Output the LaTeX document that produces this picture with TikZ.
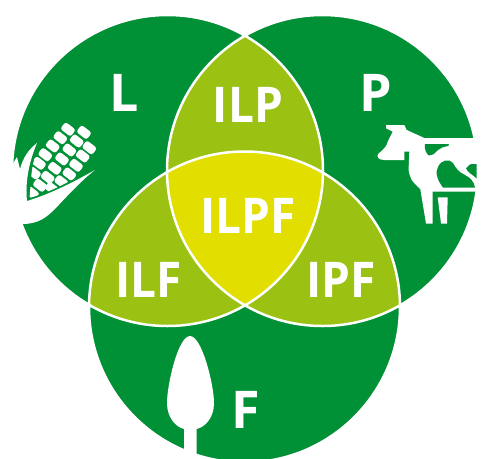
\documentclass[tikz,border=0pt]{standalone}
\usepackage{fontspec}
\setmainfont{Open Sans}
\definecolor{vgreen}{HTML}{009036}
\definecolor{vlime}{HTML}{9BC113}
\definecolor{vyellow}{HTML}{E1DE00}
\newcommand{\tallbold}[2]{\scalebox{1}[#1]{#2}}
\tikzset{
  setlabel/.style={text=white,inner sep=0pt,font=\fontsize{46}{46}\selectfont\bfseries},
  biglabel/.style={text=white,inner sep=0pt,font=\fontsize{52}{52}\selectfont\bfseries},
  kernel/.style={fill=white,rounded corners=2.6pt,minimum width=13pt,minimum height=8.8pt,inner sep=0pt,rotate=-38},
  icon/.style={fill=white,draw=none}
}
\def\cL{(167.5,170.5) circle (155.5)}
\def\cP{(322.5,170.5) circle (155.5)}
\def\cF{(244.5,307) circle (155.5)}
\begin{document}
\begin{tikzpicture}[x=1pt,y=-1pt]
\useasboundingbox (0,0) rectangle (481,458);
\clip (0,0) rectangle (481,458);
% circles
\fill[vgreen] \cL;
\fill[vgreen] \cP;
\fill[vgreen] \cF;
\begin{scope}\clip \cL; \fill[vlime] \cP; \end{scope}
\begin{scope}\clip \cL; \fill[vlime] \cF; \end{scope}
\begin{scope}\clip \cP; \fill[vlime] \cF; \end{scope}
\begin{scope}\clip \cL; \clip \cP; \fill[vyellow] \cF; \end{scope}
\draw[white,line width=2.5pt] \cL \cP \cF;
% corn husk
\fill[icon] (37,143) .. controls (28,150) and (23,158) .. (20,169) -- (17,157) -- (12,165) -- (5,165) -- (5,225) -- (22,224)
  .. controls (38,224) and (46,218) .. (56,208) .. controls (68,195) and (82,180) .. (95,170)
  .. controls (72,183) and (50,194) .. (27,201) .. controls (25,182) and (29,162) .. (37,143) -- cycle;
% corn kernels
\begin{scope}
\clip (38,146) .. controls (34,160) and (32,165) .. (31,180) -- (29.5,198) .. controls (50,192) and (75,180) .. (95,165) -- (100,120) -- (60,115) -- cycle;
\foreach \kx/\ky [count=\ki] in {68/129.3,84/132.3,60.3/137.7,76.7/141,89.3/147.7,52.7/146,69.3/150,82.7/156,45.3/154.7,62/159,76/165.3,39/163.3,54.7/168.3,69.3/174,34/173,47.7/177.3,61.3/181.7,40/185.3,52/188.5,32/193}
  \node[kernel] (k\ki) at (\kx,\ky) {};
\end{scope}
% cow
\fill[icon] (386,125) -- (404.3,125) -- (406.7,130) -- (424.3,138) -- (480,138) -- (480,191.5) -- (432.7,191.5) -- (432.7,223.5) -- (426,223.5) -- (420.3,189.3)
  .. controls (415,184) and (411,180) .. (411,178.3) .. controls (408,172) and (408.7,168) .. (408.7,166.7) -- (409.3,151.7) -- (404.3,151.7) -- (404.3,160) -- (384,160)
  .. controls (378,160) and (376,156) .. (378.5,153.5) .. controls (384,149) and (387,146) .. (387.7,141.7) -- (392.7,131.7) -- (386,128.3) -- cycle;
\fill[icon] (437.7,197.3) -- (447.7,197.3) -- (447,223.5) -- (441,223.5) -- cycle;
\fill[vgreen] (425,144) -- (449,144) -- (448.3,146) .. controls (443,147) and (441,147.5) .. (438,150) .. controls (434,154) and (432,156) .. (429,155.5) .. controls (426,154) and (424,148) .. (425,144) -- cycle;
\fill[vgreen] (443,187.5) .. controls (437,180) and (435,172) .. (438,167) .. controls (441,160) and (449,158) .. (453,163) .. controls (457,170) and (459,172) .. (465,175) .. controls (471,178) and (474,182) .. (475,187.5) -- cycle;
\fill[vgreen] (466,168.3) -- (470,164.3) -- (476.5,164) -- (476.5,178.3) .. controls (472,174) and (468,173) .. (466,168.3) -- cycle;
% tree
\fill[icon] (190,336) .. controls (178,336) and (167,385) .. (167,403) .. controls (167,418) and (176,427) .. (184,429) -- (184,460) -- (196.7,460) -- (196.7,429) .. controls (205,427) and (214,418) .. (214,403) .. controls (214,385) and (202,336) .. (190,336) -- cycle;
% labels
\node[biglabel] (lL) at (124,93) {L};
\node[biglabel] (lP) at (376,93) {P};
\node[biglabel] (lF) at (245.5,410) {F};
\node[setlabel] (lILP) at (248,105) {\tallbold{1.07}{ILP}};
\node[setlabel] (lILPF) at (248,216) {\tallbold{1.07}{ILPF}};
\node[setlabel] (lILF) at (149,280) {\tallbold{1.07}{ILF}};
\node[setlabel] (lIPF) at (341,280) {\tallbold{1.07}{IPF}};
\end{tikzpicture}
\end{document}
